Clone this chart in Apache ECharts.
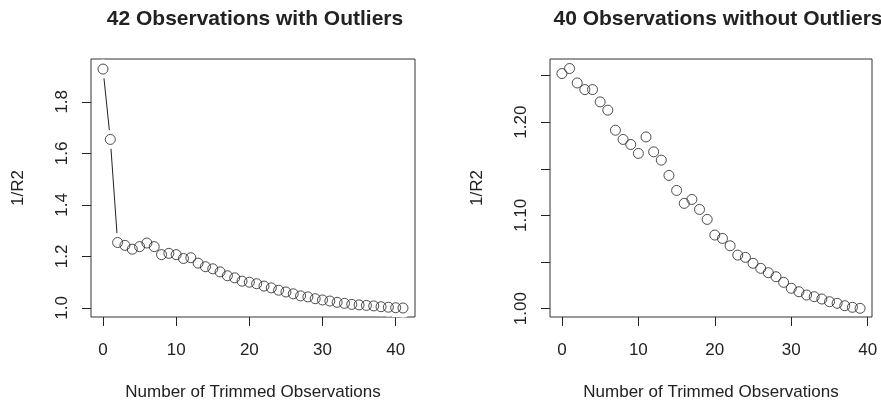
<!DOCTYPE html>
<html>
<head>
<meta charset="utf-8">
<script src="https://cdn.jsdelivr.net/npm/echarts@6/dist/echarts.min.js"></script>
<style>html,body{margin:0;padding:0;background:#fff}#c{width:881px;height:406px}</style>
</head>
<body>
<div id="c"></div>
<script>
// ---- Data ----
var leftTitle = '42 Observations with Outliers';
var rightTitle = '40 Observations without Outliers';
var xAxisName = 'Number of Trimmed Observations';
var yAxisName = '1/R2';

var leftTrimmed = [0,1,2,3,4,5,6,7,8,9,10,11,12,13,14,15,16,17,18,19,20,21,22,23,24,25,26,27,28,29,30,31,32,33,34,35,36,37,38,39,40,41];
var leftInvR2 = [1.927,1.654,1.254,1.243,1.228,1.238,1.252,1.238,1.207,1.212,1.207,1.192,1.195,1.174,1.160,1.152,1.140,1.125,1.117,1.104,1.100,1.094,1.085,1.078,1.069,1.062,1.055,1.047,1.043,1.036,1.031,1.027,1.022,1.018,1.014,1.012,1.010,1.008,1.005,1.003,1.001,1.000];

var rightTrimmed = [0,1,2,3,4,5,6,7,8,9,10,11,12,13,14,15,16,17,18,19,20,21,22,23,24,25,26,27,28,29,30,31,32,33,34,35,36,37,38,39];
var rightInvR2 = [1.2522,1.2576,1.2421,1.2350,1.2350,1.2218,1.2129,1.1914,1.1815,1.1761,1.1665,1.1842,1.1682,1.1593,1.1429,1.1268,1.1129,1.1171,1.1064,1.0957,1.0789,1.0753,1.0674,1.0574,1.0550,1.0486,1.0432,1.0385,1.0342,1.0282,1.0218,1.0181,1.0146,1.0128,1.0103,1.0074,1.0057,1.0031,1.0014,1.0003];

var leftXTicks = [0,10,20,30,40];
var leftYTicks = [1.0,1.2,1.4,1.6,1.8];
var rightXTicks = [0,10,20,30,40];
var rightYTicks = [1.00,1.05,1.10,1.15,1.20,1.25];
var rightYLabels = [1.00,1.10,1.20];

// ---- Build ----
function pairs(xs, ys){ return xs.map(function(x,i){ return [x, ys[i]]; }); }

var FONT = 'Liberation Sans';
var INK = '#222';
var txt = {fontFamily: FONT, fontSize: 17, color: INK};

function xAx(idx, min, max, ticks){
  return {
    type:'value', gridIndex: idx, min:min, max:max,
    name: xAxisName, nameLocation:'middle', nameGap: 67,
    nameTextStyle: Object.assign({}, txt),
    axisLine:{show:false, onZero:false},
    axisTick:{show:true, length:9, customValues: ticks, lineStyle:{color:INK}},
    axisLabel:Object.assign({show:true, margin:25, customValues: ticks}, txt),
    splitLine:{show:false}
  };
}
function yAx(idx, min, max, ticks, labels, dec){
  return {
    type:'value', gridIndex: idx, min:min, max:max,
    name: yAxisName, nameLocation:'middle', nameGap: 64, nameRotate: 90,
    nameTextStyle: Object.assign({}, txt),
    axisLine:{show:false, onZero:false},
    axisTick:{show:true, length:9, customValues: ticks, lineStyle:{color:INK}},
    axisLabel:Object.assign({show:true, margin:20, rotate:90, customValues: labels,
      formatter:function(v){ return Number(v).toFixed(dec); }}, txt),
    splitLine:{show:false}
  };
}

var chart = echarts.init(document.getElementById('c'), null, {renderer:'canvas'});
chart.setOption({
  animation:false,
  backgroundColor:'#fff',
  title:[
    {text:leftTitle, left:250, top:4, textAlign:'center', textStyle:{fontFamily:FONT, fontSize:21, fontWeight:'bold', color:INK}},
    {text:rightTitle, left:713, top:4, textAlign:'center', textStyle:{fontFamily:FONT, fontSize:21, fontWeight:'bold', color:INK}}
  ],
  grid:[
    {left:91, top:59, width:324, height:258, show:true, borderColor:'#333', borderWidth:1, backgroundColor:'transparent'},
    {left:550, top:59, width:322, height:258, show:true, borderColor:'#333', borderWidth:1, backgroundColor:'transparent'}
  ],
  xAxis:[ xAx(0, -1.64, 42.64, leftXTicks), xAx(1, -1.56, 40.56, rightXTicks) ],
  yAxis:[ yAx(0, 0.965, 1.966, leftYTicks, leftYTicks, 1), yAx(1, 0.991, 1.2678, rightYTicks, rightYLabels, 2) ],
  series:[
    {type:'line', xAxisIndex:0, yAxisIndex:0, data:pairs(leftTrimmed, leftInvR2), z:1,
     symbol:'circle', symbolSize:19, showAllSymbol:true,
     itemStyle:{color:'#fff', borderWidth:0}, lineStyle:{color:INK, width:1}, emphasis:{disabled:true}},
    {type:'scatter', xAxisIndex:0, yAxisIndex:0, data:pairs(leftTrimmed, leftInvR2), z:3,
     symbol:'circle', symbolSize:10,
     itemStyle:{color:'rgba(0,0,0,0)', borderColor:INK, borderWidth:1}, emphasis:{disabled:true}},
    {type:'scatter', xAxisIndex:1, yAxisIndex:1, data:pairs(rightTrimmed, rightInvR2), z:3,
     symbol:'circle', symbolSize:10,
     itemStyle:{color:'rgba(0,0,0,0)', borderColor:INK, borderWidth:1}, emphasis:{disabled:true}}
  ]
});
</script>
</body>
</html>
